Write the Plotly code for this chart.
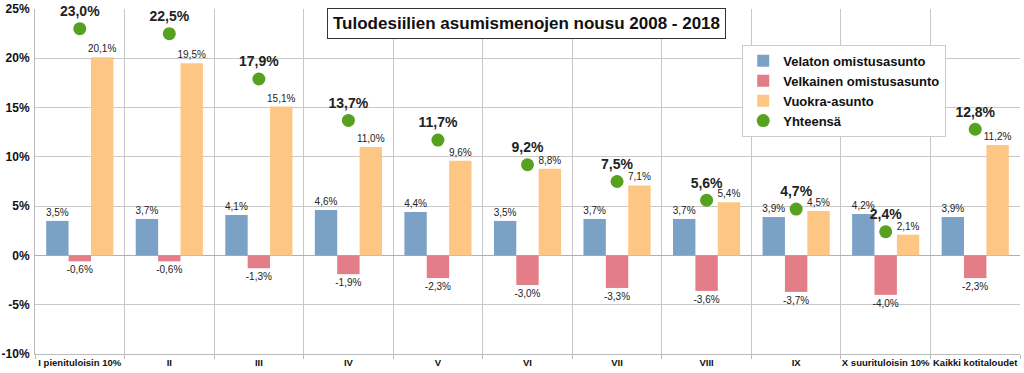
import plotly.graph_objects as go

categories = ["I pienituloisin 10%", "II", "III", "IV", "V", "VI", "VII", "VIII", "IX",
              "X suurituloisin 10%", "Kaikki kotitaloudet"]
velaton = [3.5, 3.7, 4.1, 4.6, 4.4, 3.5, 3.7, 3.7, 3.9, 4.2, 3.9]
velkainen = [-0.6, -0.6, -1.3, -1.9, -2.3, -3.0, -3.3, -3.6, -3.7, -4.0, -2.3]
vuokra = [20.1, 19.5, 15.1, 11.0, 9.6, 8.8, 7.1, 5.4, 4.5, 2.1, 11.2]
yhteensa = [23.0, 22.5, 17.9, 13.7, 11.7, 9.2, 7.5, 5.6, 4.7, 2.4, 12.8]
tick_vals = [-10, -5, 0, 5, 10, 15, 20, 25]
tick_text = ["-10%", "-5%", "0%", "5%", "10%", "15%", "20%", "25%"]


def fmt(v):
    return f"{v:.1f}".replace(".", ",") + "%"


FONT = "Liberation Sans, Arial, sans-serif"
fig = go.Figure()
bar_font = dict(family=FONT, size=10, color="#222222")
for name, vals, col in [("Velaton omistusasunto", velaton, "#7ba1c7"),
                        ("Velkainen omistusasunto", velkainen, "#e37d88"),
                        ("Vuokra-asunto", vuokra, "#fec684")]:
    fig.add_trace(go.Bar(x=categories, y=vals, name=name, marker_color=col,
                         text=[fmt(v) for v in vals], textposition="outside",
                         constraintext="none",
                         textfont=bar_font, cliponaxis=False, marker_line_width=0))

fig.add_trace(go.Scatter(x=categories, y=yhteensa, name="Yhteensä", mode="markers+text",
                         marker=dict(color="#56a11f", size=13),
                         text=["<b>" + fmt(v) + "</b>" for v in yhteensa],
                         textposition="top center",
                         textfont=dict(family=FONT, size=14, color="#222222"),
                         cliponaxis=False))

fig.update_layout(
    width=1024, height=373,
    margin=dict(l=35, r=4, t=9, b=19, autoexpand=False),
    barmode="group", bargap=0.25, bargroupgap=0,
    plot_bgcolor="white", paper_bgcolor="white",
    font=dict(family=FONT, color="#222222"),
    showlegend=True,
    legend=dict(x=0.718, y=0.896, xanchor="left", yanchor="top",
                bgcolor="white", bordercolor="#cccccc", borderwidth=1,
                font=dict(family=FONT, size=13, color="#111111", weight="bold"),
                tracegroupgap=0, itemwidth=30),
    xaxis=dict(type="category", tickson="boundaries", showgrid=True, gridcolor="#c8c8c8",
               gridwidth=1, showline=True, linecolor="#bbbbbb", ticks="outside",
               ticklen=4, tickcolor="#bbbbbb", automargin=False,
               tickfont=dict(family=FONT, size=9.5, color="#111111", weight="bold"), tickangle=0,
               range=[-0.5, 10.5]),
    yaxis=dict(range=[-10, 25], tickvals=tick_vals, ticktext=tick_text, automargin=False,
               showgrid=True, gridcolor="#c8c8c8", zeroline=True, zerolinecolor="#b0b0b0",
               zerolinewidth=1, showline=True, linecolor="#bbbbbb", ticklabelstandoff=2,
               tickfont=dict(family=FONT, size=12, color="#111111", weight="bold")),
    annotations=[dict(text="<b>Tulodesiilien asumismenojen nousu 2008 - 2018</b>",
                      x=0.499, y=0.957, xref="paper", yref="paper",
                      xanchor="center", yanchor="middle", showarrow=False,
                      font=dict(family=FONT, size=17, color="#111111"),
                      bgcolor="white", bordercolor="#333333", borderwidth=1, borderpad=5)],
)
fig.write_html("out.html", config={"displayModeBar": False},
               post_script="document.body.style.margin='0';document.body.style.overflow='hidden';")
